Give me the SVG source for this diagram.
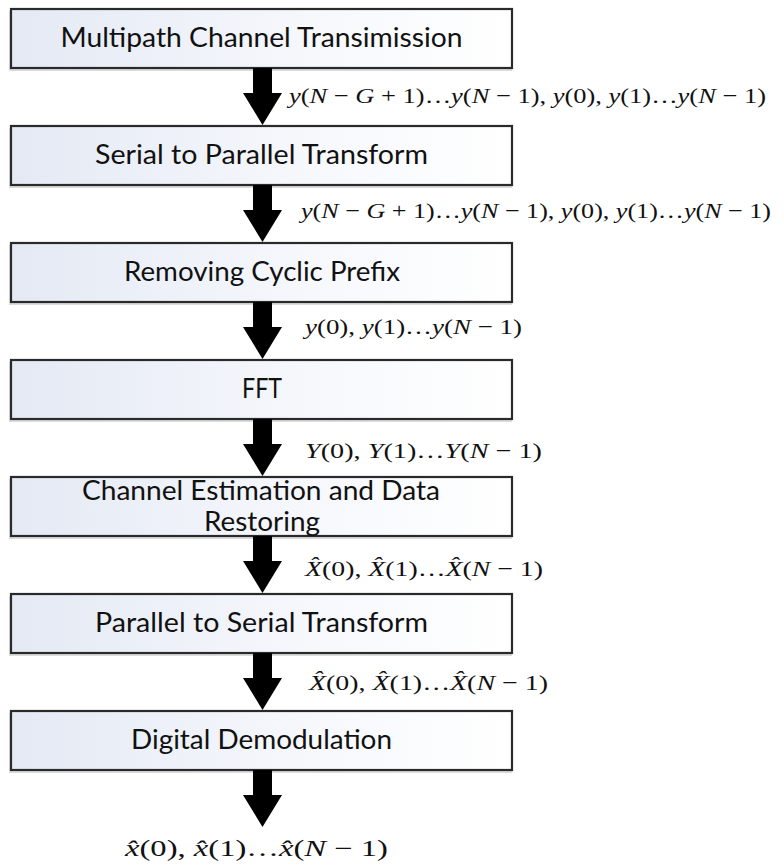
<svg xmlns="http://www.w3.org/2000/svg" width="784" height="866" viewBox="0 0 784 866">
<style>
.box{fill:url(#bg);stroke:#2a2a2a;stroke-width:2.2}
.sh{fill:#9a9a9a;opacity:0.35}
.t{font-family:Lato,"Open Sans","Liberation Sans",sans-serif;font-size:26px;fill:#111;text-anchor:middle}
.m{font-family:"Liberation Serif","DejaVu Serif",serif;font-size:22px;fill:#111}
.i{font-style:italic}
.arr{fill:#000}
</style>
<defs>
<linearGradient id="bg" x1="0" y1="0" x2="1" y2="0">
<stop offset="0" stop-color="#e4e9f4"/>
<stop offset="0.6" stop-color="#f6f8fc"/>
<stop offset="1" stop-color="#ffffff"/>
</linearGradient>
</defs>
<rect width="784" height="866" fill="#ffffff"/>

<g id="n1"><rect class="sh" x="9" y="11" width="503" height="60"/><rect class="box" x="11" y="9" width="501" height="59"/><text class="t" x="261.5" y="47" textLength="402" lengthAdjust="spacingAndGlyphs">Multipath Channel Transimission</text></g>
<g id="n2"><rect class="sh" x="9" y="128" width="503" height="60"/><rect class="box" x="11" y="126" width="501" height="59"/><text class="t" x="261.5" y="164" textLength="333" lengthAdjust="spacingAndGlyphs">Serial to Parallel Transform</text></g>
<g id="n3"><rect class="sh" x="9" y="245" width="503" height="60"/><rect class="box" x="11" y="243" width="501" height="59"/><text class="t" x="262" y="281" textLength="276" lengthAdjust="spacingAndGlyphs">Removing Cyclic Prefix</text></g>
<g id="n4"><rect class="sh" x="9" y="362" width="503" height="60"/><rect class="box" x="11" y="360" width="501" height="59"/><text class="t" x="262" y="398" textLength="40" lengthAdjust="spacingAndGlyphs">FFT</text></g>
<g id="n5"><rect class="sh" x="9" y="479" width="503" height="60"/><rect class="box" x="11" y="477" width="501" height="59"/><text class="t" x="261" y="500" textLength="358" lengthAdjust="spacingAndGlyphs">Channel Estimation and Data</text><text class="t" x="262" y="531" textLength="116" lengthAdjust="spacingAndGlyphs">Restoring</text></g>
<g id="n6"><rect class="sh" x="9" y="596" width="503" height="60"/><rect class="box" x="11" y="594" width="501" height="59"/><text class="t" x="261.5" y="632" textLength="333" lengthAdjust="spacingAndGlyphs">Parallel to Serial Transform</text></g>
<g id="n7"><rect class="sh" x="9" y="713" width="503" height="60"/><rect class="box" x="11" y="711" width="501" height="59"/><text class="t" x="261.5" y="749" textLength="261" lengthAdjust="spacingAndGlyphs">Digital Demodulation</text></g>

<g id="connectors">
<polygon class="arr" points="253,68 272,68 272,93 282,93 262.5,125 243,93 253,93"/>
<polygon class="arr" points="253,185 272,185 272,210 282,210 262.5,242 243,210 253,210"/>
<polygon class="arr" points="253,302 272,302 272,327 282,327 262.5,359 243,327 253,327"/>
<polygon class="arr" points="253,419 272,419 272,444 282,444 262.5,476 243,444 253,444"/>
<polygon class="arr" points="253,536 272,536 272,561 282,561 262.5,593 243,561 253,561"/>
<polygon class="arr" points="253,653 272,653 272,678 282,678 262.5,710 243,678 253,678"/>
<polygon class="arr" points="253,770 272,770 272,795 282,795 262.5,827 243,795 253,795"/>

<text class="m" x="289" y="103" textLength="477" lengthAdjust="spacingAndGlyphs"><tspan class="i">y</tspan>(<tspan class="i">N</tspan> − <tspan class="i">G</tspan> + 1)…<tspan class="i">y</tspan>(<tspan class="i">N</tspan> − 1), <tspan class="i">y</tspan>(0), <tspan class="i">y</tspan>(1)…<tspan class="i">y</tspan>(<tspan class="i">N</tspan> − 1)</text>
<text class="m" x="301" y="218" textLength="470" lengthAdjust="spacingAndGlyphs"><tspan class="i">y</tspan>(<tspan class="i">N</tspan> − <tspan class="i">G</tspan> + 1)…<tspan class="i">y</tspan>(<tspan class="i">N</tspan> − 1), <tspan class="i">y</tspan>(0), <tspan class="i">y</tspan>(1)…<tspan class="i">y</tspan>(<tspan class="i">N</tspan> − 1)</text>
<text class="m" x="305" y="334" textLength="217" lengthAdjust="spacingAndGlyphs"><tspan class="i">y</tspan>(0), <tspan class="i">y</tspan>(1)…<tspan class="i">y</tspan>(<tspan class="i">N</tspan> − 1)</text>
<text class="m" x="305" y="458" textLength="237" lengthAdjust="spacingAndGlyphs"><tspan class="i">Y</tspan>(0), <tspan class="i">Y</tspan>(1)…<tspan class="i">Y</tspan>(<tspan class="i">N</tspan> − 1)</text>
<text class="m" x="305" y="576" textLength="238" lengthAdjust="spacingAndGlyphs"><tspan class="i">X̂</tspan>(0), <tspan class="i">X̂</tspan>(1)…<tspan class="i">X̂</tspan>(<tspan class="i">N</tspan> − 1)</text>
<text class="m" x="309" y="690" textLength="239" lengthAdjust="spacingAndGlyphs"><tspan class="i">X̂</tspan>(0), <tspan class="i">X̂</tspan>(1)…<tspan class="i">X̂</tspan>(<tspan class="i">N</tspan> − 1)</text>
<text class="m" x="125" y="856" textLength="263" lengthAdjust="spacingAndGlyphs" style="font-size:23px"><tspan class="i">x̂</tspan>(0), <tspan class="i">x̂</tspan>(1)…<tspan class="i">x̂</tspan>(<tspan class="i">N</tspan> − 1)</text>
</g>
</svg>
